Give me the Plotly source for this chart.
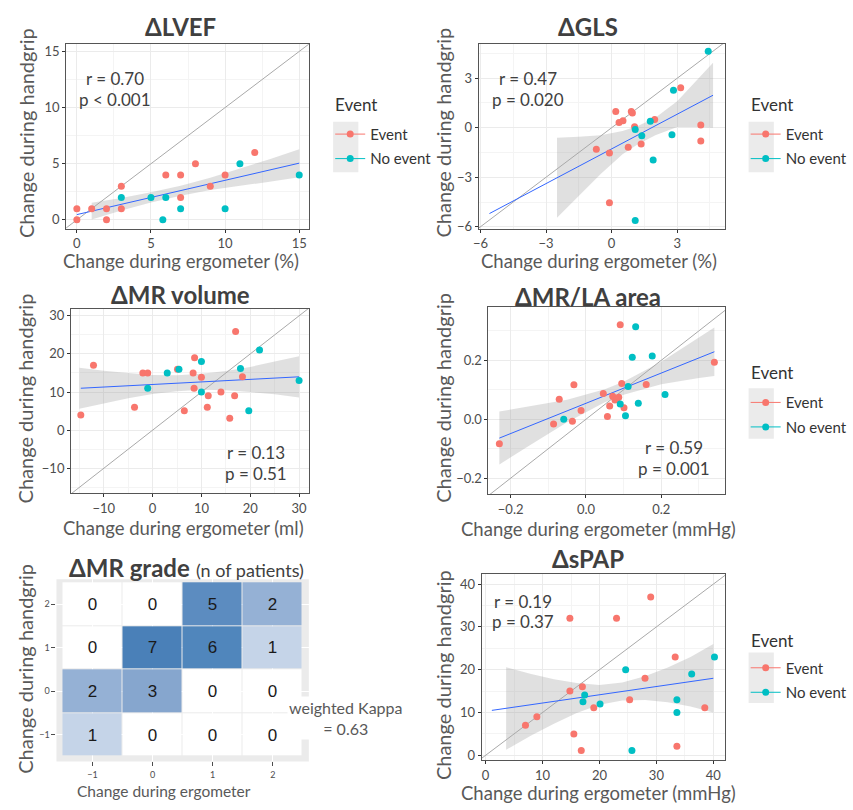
import plotly.graph_objects as go

W, H = 853, 810
EVENT_C = "#F8766D"
NOEVENT_C = "#00BFC4"
FONT = "Lato"

# ---------------- data ----------------
# ΔLVEF
lvef_ev_x = [0, 0, 1, 2, 2, 3, 3, 6, 7, 7, 8, 9, 10, 12]
lvef_ev_y = [1, 0, 1, 1, 0, 3, 1, 4, 4, 2, 5, 3, 4, 6]
lvef_ne_x = [3, 5, 6, 5.8, 7, 10, 11, 15]
lvef_ne_y = [2, 2, 2, 0, 1, 1, 5, 4]
lvef_fit_x = [0, 15]
lvef_fit_y = [0.47, 5.05]
lvef_band_x = [1, 3, 5, 7, 9, 11, 13, 15]
lvef_band_hi = [1.53, 1.94, 2.45, 3.05, 3.75, 4.55, 5.4, 6.3]
lvef_band_lo = [0.03, 0.84, 1.55, 2.15, 2.65, 3.05, 3.4, 3.8]

# ΔGLS
gls_ev_x = [-0.70, -0.10, -0.10, 0.19, 0.34, 0.52, 0.90, 0.95, 1.05, 0.76, 1.35, 1.97, 3.16, 4.08, 4.08]
gls_ev_y = [-1.31, -1.53, -4.54, 0.98, 0.32, 0.42, 0.98, 0.90, 0.06, -1.18, -0.98, 0.50, 2.43, 0.16, -0.80]
gls_ne_x = [1.08, 1.38, 1.77, 1.90, 2.76, 2.83, 4.42, 1.08]
gls_ne_y = [-0.10, -0.48, 0.40, -1.95, -0.42, 2.27, 4.64, -5.62]
gls_fit_x = [-5.59, 4.64]
gls_fit_y = [-5.2, 1.97]
gls_band_x = [-2.5, -1.5, -0.5, 0.5, 1.2, 2, 3, 4, 4.64]
gls_band_hi = [-0.6, -0.55, -0.45, -0.2, 0.1, 0.6, 1.6, 3.0, 3.94]
gls_band_lo = [-5.45, -4.1, -2.8, -1.6, -1.0, -0.45, 0.05, 0.05, 0.0]

# ΔMR volume
mrv_ev_x = [-14.7, -12.1, -3.7, -2.0, -1.0, 5.1, 6.5, 8.3, 8.6, 8.5, 10.0, 11.4, 11.2, 14.0, 15.8, 16.8, 17.0, 18.4]
mrv_ev_y = [4, 17, 6, 15, 15, 16, 5.1, 15, 19, 11, 13.9, 9, 6, 10, 3.1, 9, 25.9, 14]
mrv_ne_x = [-1.0, 3.0, 5.4, 10, 10, 18, 19.7, 21.9, 30]
mrv_ne_y = [11, 15, 16, 18, 10, 16.2, 5.1, 21, 13]
mrv_fit_x = [-14.7, 30]
mrv_fit_y = [11.0, 14.0]
mrv_band_x = [-15, -10, -5, 0, 5, 10, 15, 20, 25, 30]
mrv_band_hi = [16.4, 15.6, 15.0, 14.5, 14.4, 14.8, 15.5, 16.6, 18.0, 19.4]
mrv_band_lo = [5.6, 7.0, 8.4, 9.5, 10.2, 10.6, 10.5, 10.0, 9.4, 8.6]

# ΔMR/LA area
mrla_ev_x = [-0.230, -0.086, -0.071, -0.036, -0.032, -0.013, 0.046, 0.057, 0.063, 0.071, 0.077, 0.082, 0.087, 0.091, 0.095, 0.101, 0.160, 0.341]
mrla_ev_y = [-0.083, -0.016, 0.068, -0.007, 0.117, 0.030, 0.087, 0.009, 0.045, 0.078, 0.065, 0.069, 0.075, 0.321, 0.121, 0.039, 0.118, 0.193]
mrla_ne_x = [-0.059, 0.091, 0.105, 0.112, 0.123, 0.132, 0.139, 0.176, 0.210]
mrla_ne_y = [0.0, 0.052, 0.012, 0.111, 0.210, 0.314, 0.054, 0.215, 0.084]
mrla_fit_x = [-0.230, 0.341]
mrla_fit_y = [-0.064, 0.229]
mrla_band_x = [-0.23, -0.15, -0.05, 0.05, 0.10, 0.20, 0.30, 0.341]
mrla_band_hi = [0.026, 0.043, 0.066, 0.102, 0.127, 0.195, 0.276, 0.311]
mrla_band_lo = [-0.154, -0.089, -0.010, 0.058, 0.083, 0.119, 0.140, 0.147]

# ΔMR grade (n of patients)
grade_x = [-1, 0, 1, 2]
grade_y = [-1, 0, 1, 2]
grade_counts = [
    [1, 0, 0, 0],   # handgrip -1
    [2, 3, 0, 0],   # handgrip 0
    [0, 7, 6, 1],   # handgrip 1
    [0, 0, 5, 2],   # handgrip 2
]

# ΔsPAP
spap_ev_x = [7.0, 9.0, 14.8, 14.8, 15.5, 16.8, 17.0, 19.0, 23.0, 25.3, 28.0, 29.0, 33.3, 33.6, 38.5]
spap_ev_y = [7.0, 9.0, 15.0, 32.0, 5.0, 1.1, 16.0, 11.1, 32.0, 13.0, 18.0, 37.0, 23.0, 2.1, 11.1]
spap_ne_x = [17.1, 17.4, 20.1, 24.6, 25.7, 33.6, 33.6, 36.2, 40.2]
spap_ne_y = [12.5, 14.1, 12.0, 20.0, 1.1, 13.0, 10.0, 19.0, 23.0]
spap_fit_x = [1.1, 40]
spap_fit_y = [10.5, 18.0]
spap_band_x = [3.6, 8, 12, 16, 20, 24, 28, 32, 36, 40]
spap_band_hi = [20.6, 19.0, 17.8, 16.9, 16.4, 17.0, 18.5, 20.5, 23.0, 26.0]
spap_band_lo = [1.3, 4.6, 7.4, 9.9, 11.8, 12.8, 12.9, 12.4, 11.4, 10.0]

# ---------------- helpers ----------------
def px(x):
    return x / W

def py(y):
    return 1 - y / H

fig = go.Figure()
annotations = []
shapes = []

def scatter_panel(n, ev_x, ev_y, ne_x, ne_y, fit_x, fit_y, bx, blo, bhi,
                  dom_px, xr, yr, dtick, fmt, legend_name):
    xa = "x" if n == 1 else f"x{n}"
    ya = "y" if n == 1 else f"y{n}"
    fig.add_trace(go.Scatter(x=bx + bx[::-1], y=bhi + blo[::-1], fill="toself",
                             fillcolor="rgba(153,153,153,0.30)", line=dict(width=0),
                             mode="lines", hoverinfo="skip", showlegend=False,
                             xaxis=xa, yaxis=ya))
    lo = min(xr[0], yr[0]); hi = max(xr[1], yr[1])
    fig.add_trace(go.Scatter(x=[lo, hi], y=[lo, hi], mode="lines",
                             line=dict(color="#A9A9A9", width=1), hoverinfo="skip",
                             showlegend=False, xaxis=xa, yaxis=ya))
    fig.add_trace(go.Scatter(x=fit_x, y=fit_y, mode="lines",
                             line=dict(color="#3366FF", width=1), hoverinfo="skip",
                             showlegend=False, xaxis=xa, yaxis=ya))
    fig.add_trace(go.Scatter(x=ev_x, y=ev_y, mode="markers", name="Event",
                             marker=dict(color=EVENT_C, size=7), showlegend=False,
                             xaxis=xa, yaxis=ya))
    fig.add_trace(go.Scatter(x=ne_x, y=ne_y, mode="markers", name="No event",
                             marker=dict(color=NOEVENT_C, size=7), showlegend=False,
                             xaxis=xa, yaxis=ya))
    if legend_name:
        for nm, c in (("Event", EVENT_C), ("No event", NOEVENT_C)):
            fig.add_trace(go.Scatter(x=[None], y=[None], mode="lines+markers", name=nm,
                                     marker=dict(color=c, size=7), line=dict(color=c, width=1),
                                     legend=legend_name, legendgroup=legend_name + nm,
                                     showlegend=True, xaxis=xa, yaxis=ya))
    x0, x1, y0, y1 = dom_px
    common = dict(showline=True, mirror=True, linecolor="#555555", linewidth=1,
                  ticks="outside", ticklen=3, tickcolor="#333333", tickwidth=1,
                  showgrid=True, gridcolor="#EBEBEB", gridwidth=1, zeroline=False,
                  tickfont=dict(family=FONT, size=13, color="#4D4D4D"),
                  tickmode="linear", tick0=0, dtick=dtick, tickformat=fmt,
                  minor=dict(dtick=dtick / 2, tick0=dtick / 2, showgrid=True,
                             gridcolor="#F4F4F4", gridwidth=0.6, ticks=""))
    fig.layout[("xaxis" if n == 1 else f"xaxis{n}")] = dict(
        domain=[px(x0), px(x1)], range=xr, anchor=ya, **common)
    fig.layout[("yaxis" if n == 1 else f"yaxis{n}")] = dict(
        domain=[py(y1), py(y0)], range=yr, anchor=xa, **common)

def text(x, y, s, size=16, color="#404040", bold=False, angle=0, xanchor="center", **kw):
    if bold:
        s = f"<b>{s}</b>"
    annotations.append(dict(x=px(x), y=py(y), xref="paper", yref="paper", text=s,
                            showarrow=False, textangle=angle,
                            font=dict(family=FONT, size=size, color=color),
                            xanchor=xanchor, yanchor="middle", **kw))

scatter_panel(1, lvef_ev_x, lvef_ev_y, lvef_ne_x, lvef_ne_y, lvef_fit_x, lvef_fit_y,
              lvef_band_x, lvef_band_lo, lvef_band_hi, (62, 312, 42, 229),
              [-0.72, 15.65], [-0.79, 15.7], 5, "", "legend")
scatter_panel(2, gls_ev_x, gls_ev_y, gls_ne_x, gls_ne_y, gls_fit_x, gls_fit_y,
              gls_band_x, gls_band_lo, gls_band_hi, (487, 741, 42, 229),
              [-6.08, 5.2], [-6.12, 5.1], 3, "", "legend2")
scatter_panel(3, mrv_ev_x, mrv_ev_y, mrv_ne_x, mrv_ne_y, mrv_fit_x, mrv_fit_y,
              mrv_band_x, mrv_band_lo, mrv_band_hi, (67, 312, 310, 496),
              [-16.7, 32.0], [-16.5, 31.8], 10, "", None)
scatter_panel(4, mrla_ev_x, mrla_ev_y, mrla_ne_x, mrla_ne_y, mrla_fit_x, mrla_fit_y,
              mrla_band_x, mrla_band_lo, mrla_band_hi, (497, 741, 308, 497),
              [-0.259, 0.370], [-0.254, 0.381], 0.2, ".1f", "legend3")
scatter_panel(6, spap_ev_x, spap_ev_y, spap_ne_x, spap_ne_y, spap_fit_x, spap_fit_y,
              spap_band_x, spap_band_lo, spap_band_hi, (490, 741, 578, 766),
              [-0.7, 42.1], [-1.2, 42.3], 10, "", "legend4")

# heatmap
fig.add_trace(go.Heatmap(
    x=grade_x, y=grade_y, z=grade_counts, xaxis="x5", yaxis="y5",
    colorscale=[[0, "#FFFFFF"], [1 / 7, "#C5D4E8"], [2 / 7, "#95B1D5"],
                [3 / 7, "#86A6CE"], [5 / 7, "#5C8CC0"], [6 / 7, "#5086BC"], [1, "#4A80B8"]],
    zmin=0, zmax=7, showscale=False, xgap=1, ygap=1,
    texttemplate="%{z}", textfont=dict(family="Liberation Sans", size=17, color="#1A1A1A"),
    hoverinfo="skip"))
hm_common = dict(tickmode="array", ticks="outside", ticklen=4, tickcolor="#4D4D4D",
                 showline=False, zeroline=False, showgrid=True, gridcolor="#FFFFFF",
                 tickfont=dict(family=FONT, size=9, color="#4D4D4D"))
fig.layout["xaxis5"] = dict(domain=[px(52), px(312)], range=[-1.6, 2.6], anchor="y5",
                            tickvals=grade_x, ticklabelstandoff=1, **hm_common)
fig.layout["yaxis5"] = dict(domain=[py(767), py(583)], range=[-1.61, 2.57], anchor="x5",
                            tickvals=grade_y, **hm_common)
shapes.append(dict(type="rect", xref="x5 domain", yref="y5 domain", x0=0, x1=1, y0=0, y1=1,
                   fillcolor="#EBEBEB", line=dict(width=0), layer="below"))

# titles
TS = 24
text(180, 25, "ΔLVEF", size=TS, bold=True)
text(600, 25, "ΔGLS", size=TS, bold=True)
text(180, 295, "ΔMR volume", size=TS, bold=True)
text(600, 297, "ΔMR/LA area", size=TS, bold=True)
text(186, 571, "<b>ΔMR grade</b> <span style='font-size:18px'>(n of patients)</span>", size=TS)
text(600, 562, "ΔsPAP", size=TS, bold=True)

# r / p
for (x, y1, y2, r, p) in [(112, 77, 98, "r = 0.70", "p < 0.001"),
                          (538, 77, 98, "r = 0.47", "p = 0.020"),
                          (258, 455, 476, "r = 0.13", "p = 0.51"),
                          (688, 450, 471, "r = 0.59", "p = 0.001"),
                          (533, 605, 626, "r = 0.19", "p = 0.37")]:
    text(x, y1, r, size=17, color="#404040")
    text(x, y2, p, size=17, color="#404040")

# axis titles
AX = "#595959"
for (x, y, s, fs) in [(180, 262, "Change during ergometer (%)", 18.5),
                      (611, 262, "Change during ergometer (%)", 18.5),
                      (183, 531, "Change during ergometer (ml)", 18.5),
                      (610, 532, "Change during ergometer (mmHg)", 18.5),
                      (163, 797, "Change during ergometer", 15.5),
                      (610, 799, "Change during ergometer (mmHg)", 18.5)]:
    text(x, y, s, size=fs, color=AX, borderpad=0)
for (x, y) in [(20, 132), (450, 132), (20, 400), (450, 400), (20, 673), (450, 680)]:
    text(x, y, "Change during handgrip", size=20, color=AX, angle=-90, borderpad=0)

# kappa
text(350, 723, "weighted Kappa<br>= 0.63", size=16, color="#595959", bgcolor="#FFFFFF")

# legends (titles as annotations, items as legends)
def legend_cfg(xl, yitem):
    return dict(x=px(xl), y=py(yitem - 14), xanchor="left", yanchor="top",
                font=dict(family=FONT, size=15, color="#333333"),
                bgcolor="rgba(0,0,0,0)", itemwidth=30, tracegroupgap=2)

fig.update_layout(legend=legend_cfg(334, 131), legend2=legend_cfg(762, 131),
                  legend3=legend_cfg(762, 402), legend4=legend_cfg(762, 670))
for (x, y) in [(337, 104), (765, 104), (765, 374), (765, 645)]:
    text(x, y, "Event", size=17, color="#333333", xanchor="left")

for (x0, y0, y1) in [(337, 121, 172), (765, 121, 172), (765, 390, 441), (765, 657, 708)]:
    shapes.append(dict(type="rect", xref="paper", yref="paper", x0=px(x0), x1=px(x0 + 26),
                       y0=py(y1), y1=py(y0), fillcolor="#EBEBEB", line=dict(width=0),
                       layer="below"))

fig.update_layout(width=W, height=H, margin=dict(l=0, r=0, t=0, b=0),
                  paper_bgcolor="white", plot_bgcolor="white",
                  annotations=annotations, shapes=shapes,
                  font=dict(family=FONT))

fig.write_html("out.html", config={"displayModeBar": False},
               post_script="document.body.style.margin='0px';")
